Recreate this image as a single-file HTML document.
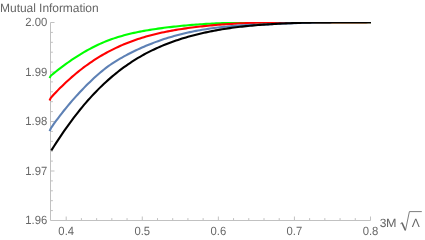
<!DOCTYPE html><html><head><meta charset="utf-8"><style>html,body{margin:0;padding:0;background:#fff}body{width:425px;height:240px;overflow:hidden}svg{display:block}svg{will-change:transform;opacity:0.999}text{font-family:"Liberation Sans",sans-serif;font-size:12px;fill:#666666;text-rendering:geometricPrecision}</style></head><body>
<svg width="425" height="240" viewBox="0 0 425 240">
<rect width="425" height="240" fill="#fff"/>
<g stroke="#c1c1c1" stroke-width="1" fill="none">
<path d="M50.5,22.5 V220.5 H370.5"/>
<path d="M66.20,220.5 v-4M81.41,220.5 v-2.4M96.63,220.5 v-2.4M111.84,220.5 v-2.4M127.06,220.5 v-2.4M142.27,220.5 v-4M157.49,220.5 v-2.4M172.71,220.5 v-2.4M187.92,220.5 v-2.4M203.14,220.5 v-2.4M218.35,220.5 v-4M233.56,220.5 v-2.4M248.78,220.5 v-2.4M264.00,220.5 v-2.4M279.21,220.5 v-2.4M294.42,220.5 v-4M309.64,220.5 v-2.4M324.85,220.5 v-2.4M340.07,220.5 v-2.4M355.28,220.5 v-2.4M370.50,220.5 v-4M50.5,210.60 h2.4M50.5,200.70 h2.4M50.5,190.80 h2.4M50.5,180.90 h2.4M50.5,171.00 h4M50.5,161.10 h2.4M50.5,151.20 h2.4M50.5,141.30 h2.4M50.5,131.40 h2.4M50.5,121.50 h4M50.5,111.60 h2.4M50.5,101.70 h2.4M50.5,91.80 h2.4M50.5,81.90 h2.4M50.5,72.00 h4M50.5,62.10 h2.4M50.5,52.20 h2.4M50.5,42.30 h2.4M50.5,32.40 h2.4M50.5,22.50 h4"/>
</g>
<clipPath id="c"><rect x="46" y="22" width="325" height="199"/></clipPath>
<g fill="none" stroke-width="2.1" stroke-linejoin="round" clip-path="url(#c)">
<path d="M49.5,78.0 L51.0,75.55 L52.0,74.73 L54.0,73.10 L56.0,71.51 L58.0,69.93 L60.0,68.39 L62.0,66.88 L64.0,65.39 L66.0,63.93 L68.0,62.50 L70.0,61.10 L72.0,59.73 L74.0,58.39 L76.0,57.08 L78.0,55.80 L80.0,54.55 L82.0,53.33 L84.0,52.15 L86.0,51.00 L88.0,49.88 L90.0,48.80 L92.0,47.74 L94.0,46.73 L96.0,45.74 L98.0,44.79 L100.0,43.88 L102.0,42.99 L104.0,42.14 L106.0,41.33 L108.0,40.54 L110.0,39.79 L112.0,39.07 L114.0,38.37 L116.0,37.71 L118.0,37.08 L120.0,36.47 L122.0,35.89 L124.0,35.33 L126.0,34.80 L128.0,34.29 L130.0,33.80 L132.0,33.33 L134.0,32.88 L136.0,32.45 L138.0,32.04 L140.0,31.64 L142.0,31.26 L144.0,30.89 L146.0,30.54 L148.0,30.20 L150.0,29.87 L152.0,29.55 L154.0,29.24 L156.0,28.94 L158.0,28.65 L160.0,28.37 L162.0,28.09 L164.0,27.83 L166.0,27.58 L168.0,27.33 L170.0,27.09 L172.0,26.86 L174.0,26.64 L176.0,26.42 L178.0,26.21 L180.0,26.01 L182.0,25.81 L184.0,25.62 L186.0,25.44 L188.0,25.26 L190.0,25.09 L192.0,24.92 L194.0,24.76 L196.0,24.61 L198.0,24.46 L200.0,24.32 L202.0,24.18 L204.0,24.05 L206.0,23.92 L208.0,23.80 L210.0,23.69 L212.0,23.58 L214.0,23.47 L216.0,23.37 L218.0,23.27 L220.0,23.18 L222.0,23.10 L224.0,23.02 L226.0,22.94 L228.0,22.86 L230.0,22.80 L232.0,22.73 L234.0,22.67 L236.0,22.61 L238.0,22.56 L240.0,22.51 L242.0,22.46 L244.0,22.42 L246.0,22.38 L248.0,22.34 L250.0,22.31 L252.0,22.37 L254.0,22.43 L256.0,22.48 L258.0,22.52 L260.0,22.56 L262.0,22.59 L264.0,22.61 L266.0,22.57 L268.0,22.53 L270.0,22.50 L272.0,22.47 L274.0,22.44 L276.0,22.42 L278.0,22.40 L280.0,22.38 L282.0,22.36 L284.0,22.35 L286.0,22.34 L288.0,22.33 L290.0,22.32 L292.0,22.32 L294.0,22.32 L296.0,22.32 L298.0,22.32 L300.0,22.32 L302.0,22.32 L304.0,22.33 L306.0,22.33 L308.0,22.34 L310.0,22.34 L312.0,22.35 L314.0,22.36 L316.0,22.37 L318.0,22.38 L320.0,22.39 L322.0,22.40 L324.0,22.41 L326.0,22.41 L328.0,22.42 L330.0,22.43 L332.0,22.44 L334.0,22.44 L336.0,22.45 L338.0,22.45 L340.0,22.46 L342.0,22.46 L344.0,22.46 L346.0,22.46 L348.0,22.46 L350.0,22.45 L352.0,22.45 L354.0,22.44 L356.0,22.43 L358.0,22.42 L360.0,22.40 L362.0,22.38 L364.0,22.36 L366.0,22.34 L368.0,22.32 L370.0,22.29 L371.0,22.27" stroke="#00ff00"/>
<path d="M49.5,100.4 L51.0,97.59 L52.0,96.49 L54.0,94.32 L56.0,92.20 L58.0,90.13 L60.0,88.11 L62.0,86.13 L64.0,84.19 L66.0,82.30 L68.0,80.46 L70.0,78.66 L72.0,76.90 L74.0,75.18 L76.0,73.51 L78.0,71.87 L80.0,70.28 L82.0,68.73 L84.0,67.21 L86.0,65.74 L88.0,64.30 L90.0,62.90 L92.0,61.54 L94.0,60.22 L96.0,58.93 L98.0,57.67 L100.0,56.45 L102.0,55.27 L104.0,54.11 L106.0,52.99 L108.0,51.91 L110.0,50.85 L112.0,49.83 L114.0,48.83 L116.0,47.87 L118.0,46.93 L120.0,46.03 L122.0,45.15 L124.0,44.30 L126.0,43.48 L128.0,42.68 L130.0,41.91 L132.0,41.16 L134.0,40.44 L136.0,39.74 L138.0,39.07 L140.0,38.42 L142.0,37.79 L144.0,37.18 L146.0,36.59 L148.0,36.03 L150.0,35.48 L152.0,34.95 L154.0,34.44 L156.0,33.95 L158.0,33.48 L160.0,33.02 L162.0,32.58 L164.0,32.16 L166.0,31.75 L168.0,31.36 L170.0,30.98 L172.0,30.61 L174.0,30.25 L176.0,29.91 L178.0,29.58 L180.0,29.26 L182.0,28.95 L184.0,28.65 L186.0,28.36 L188.0,28.08 L190.0,27.81 L192.0,27.54 L194.0,27.29 L196.0,27.04 L198.0,26.80 L200.0,26.57 L202.0,26.34 L204.0,26.13 L206.0,25.92 L208.0,25.72 L210.0,25.53 L212.0,25.34 L214.0,25.16 L216.0,24.99 L218.0,24.82 L220.0,24.67 L222.0,24.51 L224.0,24.37 L226.0,24.23 L228.0,24.10 L230.0,23.97 L232.0,23.85 L234.0,23.73 L236.0,23.62 L238.0,23.52 L240.0,23.42 L242.0,23.33 L244.0,23.24 L246.0,23.16 L248.0,23.08 L250.0,23.00 L252.0,22.94 L254.0,22.87 L256.0,22.81 L258.0,22.76 L260.0,22.70 L262.0,22.66 L264.0,22.61 L266.0,22.57 L268.0,22.53 L270.0,22.50 L272.0,22.47 L274.0,22.44 L276.0,22.42 L278.0,22.40 L280.0,22.38 L282.0,22.36 L284.0,22.35 L286.0,22.34 L288.0,22.33 L290.0,22.32 L292.0,22.32 L294.0,22.32 L296.0,22.32 L298.0,22.32 L300.0,22.32 L302.0,22.32 L304.0,22.33 L306.0,22.33 L308.0,22.34 L310.0,22.34 L312.0,22.35 L314.0,22.36 L316.0,22.37 L318.0,22.38 L320.0,22.39 L322.0,22.40 L324.0,22.41 L326.0,22.41 L328.0,22.42 L330.0,22.43 L332.0,22.44 L334.0,22.44 L336.0,22.45 L338.0,22.45 L340.0,22.46 L342.0,22.46 L344.0,22.46 L346.0,22.46 L348.0,22.45 L350.0,22.45 L352.0,22.44 L354.0,22.43 L356.0,22.42 L358.0,22.41 L360.0,22.39 L362.0,22.37 L364.0,22.35 L366.0,22.33 L368.0,22.30 L370.0,22.27 L371.0,22.25" stroke="#ff0000"/>
<path d="M49.6,131.1 L51.0,127.98 L52.0,126.55 L54.0,123.73 L56.0,120.97 L58.0,118.28 L60.0,115.63 L62.0,113.05 L64.0,110.52 L66.0,108.04 L68.0,105.61 L70.0,103.23 L72.0,100.90 L74.0,98.62 L76.0,96.38 L78.0,94.19 L80.0,92.04 L82.0,89.93 L84.0,87.86 L86.0,85.83 L88.0,83.83 L90.0,81.88 L92.0,79.97 L94.0,78.10 L96.0,76.27 L98.0,74.50 L100.0,72.78 L102.0,71.11 L104.0,69.49 L106.0,67.94 L108.0,66.44 L110.0,65.00 L112.0,63.63 L114.0,62.32 L116.0,61.06 L118.0,59.85 L120.0,58.68 L122.0,57.55 L124.0,56.44 L126.0,55.36 L128.0,54.30 L130.0,53.26 L132.0,52.25 L134.0,51.27 L136.0,50.30 L138.0,49.36 L140.0,48.44 L142.0,47.55 L144.0,46.68 L146.0,45.83 L148.0,45.00 L150.0,44.19 L152.0,43.40 L154.0,42.64 L156.0,41.89 L158.0,41.16 L160.0,40.46 L162.0,39.77 L164.0,39.11 L166.0,38.46 L168.0,37.84 L170.0,37.23 L172.0,36.64 L174.0,36.06 L176.0,35.51 L178.0,34.97 L180.0,34.45 L182.0,33.95 L184.0,33.47 L186.0,33.00 L188.0,32.55 L190.0,32.11 L192.0,31.69 L194.0,31.29 L196.0,30.90 L198.0,30.52 L200.0,30.16 L202.0,29.81 L204.0,29.48 L206.0,29.17 L208.0,28.86 L210.0,28.57 L212.0,28.29 L214.0,28.03 L216.0,27.77 L218.0,27.53 L220.0,27.30 L222.0,27.08 L224.0,26.87 L226.0,26.67 L228.0,26.48 L230.0,26.30 L232.0,26.13 L234.0,25.97 L236.0,25.81 L238.0,25.66 L240.0,25.52 L242.0,25.39 L244.0,25.27 L246.0,25.15 L248.0,25.03 L250.0,24.92 L252.0,24.82 L254.0,24.72 L256.0,24.73 L258.0,24.71 L260.0,24.68 L262.0,24.63 L264.0,24.56 L266.0,24.47 L268.0,24.34 L270.0,24.21 L272.0,24.08 L274.0,23.97 L276.0,23.85 L278.0,23.76 L280.0,23.69 L282.0,23.62 L284.0,23.55 L286.0,23.48 L288.0,23.41 L290.0,23.34 L292.0,23.27 L294.0,23.20 L296.0,23.13 L298.0,23.07 L300.0,23.00 L302.0,22.94 L304.0,22.88 L306.0,22.82 L308.0,22.76 L310.0,22.70 L312.0,22.65 L314.0,22.59 L316.0,22.54 L318.0,22.49 L320.0,22.45 L322.0,22.42 L324.0,22.40 L326.0,22.38 L328.0,22.36 L330.0,22.34 L332.0,22.32 L334.0,22.31 L336.0,22.30 L338.0,22.29 L340.0,22.28 L342.0,22.27 L344.0,22.27 L346.0,22.26 L348.0,22.26 L350.0,22.26 L352.0,22.25 L354.0,22.25 L356.0,22.25 L358.0,22.25 L360.0,22.25 L362.0,22.25 L364.0,22.25 L366.0,22.25 L368.0,22.25 L370.0,22.28 L371.0,22.31" stroke="#5e81b5"/>
<path d="M51.3,150.54 L52.0,149.42 L54.0,146.26 L56.0,143.15 L58.0,140.08 L60.0,137.07 L62.0,134.11 L64.0,131.20 L66.0,128.35 L68.0,125.54 L70.0,122.78 L72.0,120.08 L74.0,117.43 L76.0,114.83 L78.0,112.28 L80.0,109.78 L82.0,107.34 L84.0,104.94 L86.0,102.60 L88.0,100.31 L90.0,98.08 L92.0,95.89 L94.0,93.75 L96.0,91.66 L98.0,89.62 L100.0,87.62 L102.0,85.68 L104.0,83.78 L106.0,81.93 L108.0,80.12 L110.0,78.35 L112.0,76.64 L114.0,74.96 L116.0,73.33 L118.0,71.74 L120.0,70.19 L122.0,68.68 L124.0,67.21 L126.0,65.78 L128.0,64.38 L130.0,63.03 L132.0,61.71 L134.0,60.43 L136.0,59.18 L138.0,57.97 L140.0,56.79 L142.0,55.64 L144.0,54.53 L146.0,53.45 L148.0,52.40 L150.0,51.38 L152.0,50.39 L154.0,49.43 L156.0,48.50 L158.0,47.59 L160.0,46.72 L162.0,45.86 L164.0,45.04 L166.0,44.23 L168.0,43.46 L170.0,42.70 L172.0,41.97 L174.0,41.26 L176.0,40.57 L178.0,39.90 L180.0,39.25 L182.0,38.62 L184.0,38.01 L186.0,37.41 L188.0,36.83 L190.0,36.27 L192.0,35.73 L194.0,35.20 L196.0,34.69 L198.0,34.19 L200.0,33.71 L202.0,33.24 L204.0,32.79 L206.0,32.35 L208.0,31.92 L210.0,31.51 L212.0,31.12 L214.0,30.73 L216.0,30.36 L218.0,30.00 L220.0,29.66 L222.0,29.33 L224.0,29.00 L226.0,28.69 L228.0,28.40 L230.0,28.11 L232.0,27.83 L234.0,27.56 L236.0,27.31 L238.0,27.06 L240.0,26.82 L242.0,26.59 L244.0,26.37 L246.0,26.16 L248.0,25.96 L250.0,25.77 L252.0,25.58 L254.0,25.40 L256.0,25.23 L258.0,25.07 L260.0,24.91 L262.0,24.76 L264.0,24.61 L266.0,24.47 L268.0,24.34 L270.0,24.21 L272.0,24.08 L274.0,23.97 L276.0,23.85 L278.0,23.74 L280.0,23.64 L282.0,23.54 L284.0,23.45 L286.0,23.36 L288.0,23.28 L290.0,23.20 L292.0,23.12 L294.0,23.05 L296.0,22.98 L298.0,22.92 L300.0,22.86 L302.0,22.80 L304.0,22.75 L306.0,22.70 L308.0,22.66 L310.0,22.61 L312.0,22.57 L314.0,22.54 L316.0,22.50 L318.0,22.47 L320.0,22.45 L322.0,22.42 L324.0,22.40 L326.0,22.38 L328.0,22.36 L330.0,22.34 L332.0,22.32 L334.0,22.31 L336.0,22.30 L338.0,22.29 L340.0,22.28 L342.0,22.27 L344.0,22.27 L346.0,22.26 L348.0,22.26 L350.0,22.26 L352.0,22.25 L354.0,22.25 L356.0,22.25 L358.0,22.25 L360.0,22.25 L362.0,22.25 L364.0,22.25 L366.0,22.25 L368.0,22.25 L370.0,22.25 L371.0,22.25" stroke="#000000"/>
</g>
<text transform="translate(47.2,224.45) scale(0.94,1)" text-anchor="end" font-size="11.3">1.96</text>
<text transform="translate(47.2,174.95) scale(0.94,1)" text-anchor="end" font-size="11.3">1.97</text>
<text transform="translate(47.2,125.45) scale(0.94,1)" text-anchor="end" font-size="11.3">1.98</text>
<text transform="translate(47.2,75.95) scale(0.94,1)" text-anchor="end" font-size="11.3">1.99</text>
<text transform="translate(47.2,26.45) scale(0.94,1)" text-anchor="end" font-size="11.3">2.00</text>
<text transform="translate(66.20,235.4) scale(0.94,1)" text-anchor="middle" font-size="11.3">0.4</text>
<text transform="translate(142.27,235.4) scale(0.94,1)" text-anchor="middle" font-size="11.3">0.5</text>
<text transform="translate(218.35,235.4) scale(0.94,1)" text-anchor="middle" font-size="11.3">0.6</text>
<text transform="translate(294.43,235.4) scale(0.94,1)" text-anchor="middle" font-size="11.3">0.7</text>
<text transform="translate(370.50,235.4) scale(0.94,1)" text-anchor="middle" font-size="11.3">0.8</text>
<text x="0.1" y="11.55" font-size="12" letter-spacing="-0.05">Mutual Information</text>
<text x="379.7" y="226.7">3</text><text transform="translate(386.0,226.7) scale(1.05,1)">M</text>
<text x="411.8" y="226.7">&#923;</text>
<path d="M400.4,223.8 L402.0,222.7 M405.4,230.6 L409.4,211.6 H421.8" fill="none" stroke="#666666" stroke-width="0.85"/><path d="M401.9,222.6 L405.3,230.3" fill="none" stroke="#666666" stroke-width="1.5"/>
</svg></body></html>
